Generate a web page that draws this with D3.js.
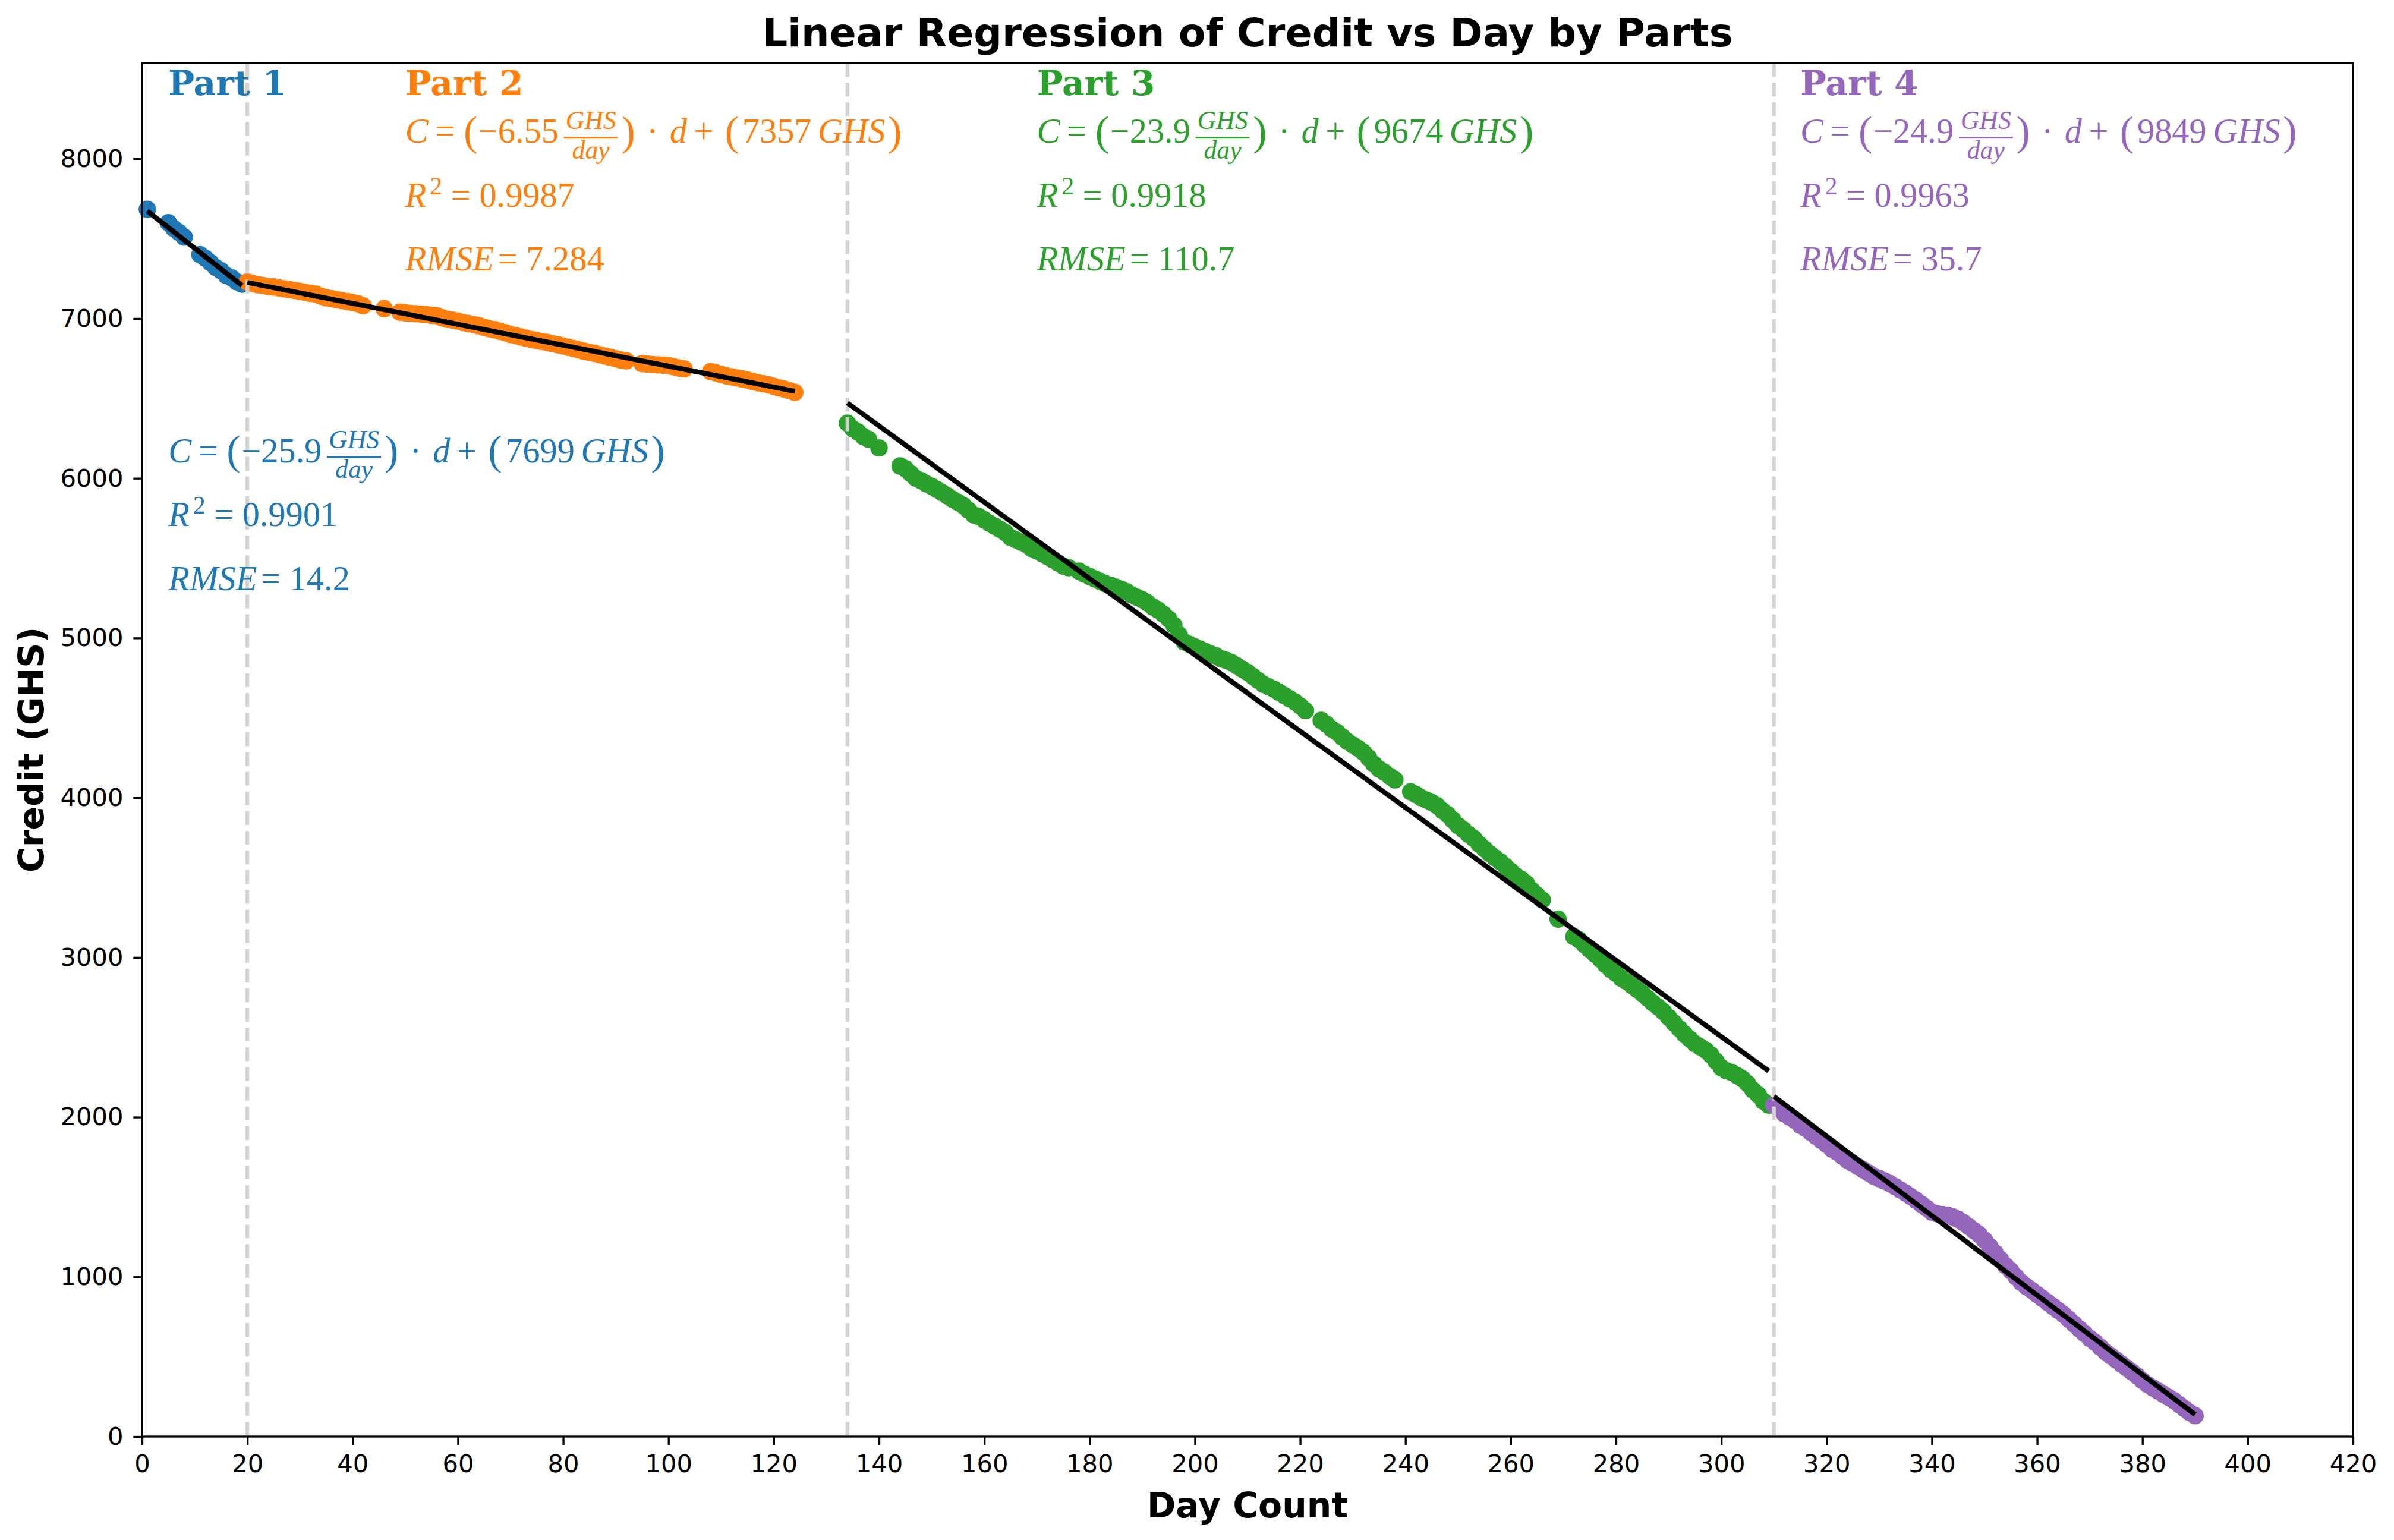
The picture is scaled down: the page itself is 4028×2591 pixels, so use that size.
<!DOCTYPE html>
<html>
<head>
<meta charset="utf-8">
<script src="https://cdn.jsdelivr.net/npm/d3@7"></script>
<style>
  html, body { margin: 0; padding: 0; background: #fff; }
  svg { display: block; }
</style>
</head>
<body>
<svg id="chart"></svg>
<script>
// ---------------- DATA ----------------
const partNames = ["Part 1", "Part 2", "Part 3", "Part 4"];
const partColors = ["#1f77b4", "#ff7f0e", "#2ca02c", "#9467bd"];
const boundaries = [20, 134, 310];

const days1 = [1, 5, 6, 7, 8, 11, 12, 13, 14, 15, 16, 17, 18, 19];
const credit1 = [7684, 7600, 7565, 7540, 7510, 7400, 7378, 7350, 7320, 7300, 7270, 7255, 7230, 7215];

const days2 = [20,21,22,23,24,25,26,27,28,29,30,31,32,33,34,35,36,37,38,39,40,41,42,46,
  49,50,51,52,53,54,55,56,57,58,59,60,61,62,63,64,65,66,67,68,69,70,71,72,73,74,75,76,77,78,79,
  80,81,82,83,84,85,86,87,88,89,90,91,92,95,96,97,98,99,100,101,102,103,
  108,109,110,111,112,113,114,115,116,117,118,119,120,121,122,123,124];
const credit2 = [7229,7220,7212,7207,7200,7198,7192,7186,7181,7176,7170,7164,7158,7153,7140,7130,7124,7118,7112,7106,7100,7093,7080,7062,
  7040,7036,7032,7030,7028,7025,7020,7018,7005,6995,6990,6984,6975,6968,6962,6955,6945,6936,6930,6920,6912,6900,6893,6885,6876,6868,6862,6856,6850,6842,6836,
  6828,6820,6812,6804,6795,6788,6782,6773,6765,6757,6748,6740,6735,6718,6715,6712,6710,6708,6706,6698,6690,6685,
  6668,6660,6650,6641,6635,6628,6622,6615,6606,6598,6592,6585,6576,6566,6558,6548,6538];

const days3 = [134,135,136,137,138,140,144,145,146,147,148,149,150,151,152,153,154,155,156,157,158,159,
  160,161,162,163,164,165,166,167,168,169,170,171,172,173,174,175,176,178,179,180,181,182,183,184,185,
  186,187,188,189,190,191,192,193,194,195,196,197,198,199,200,201,202,203,204,205,206,207,208,209,210,
  211,212,213,214,215,216,217,218,219,220,221,224,225,226,227,228,229,230,231,232,233,234,235,236,237,238,
  241,242,243,244,245,246,247,248,249,250,251,252,253,254,255,256,257,258,259,260,261,262,263,264,265,266,
  269,272,273,274,275,276,277,278,279,280,281,282,283,284,285,286,287,288,289,290,291,292,293,294,295,296,
  297,298,299,300,301,302,303,304,305,306,307,308,309];
const credit3 = [6345,6310,6290,6262,6245,6190,6077,6060,6030,6000,5985,5965,5950,5930,5910,5890,5868,5850,5830,5800,5770,5760,
  5740,5718,5700,5680,5660,5630,5615,5600,5585,5560,5545,5528,5510,5490,5470,5450,5440,5418,5400,5385,5370,5355,5340,5330,5318,
  5305,5290,5270,5255,5240,5220,5195,5175,5150,5120,5080,5020,4975,4960,4945,4930,4915,4900,4888,4870,4860,4845,4826,4805,4785,
  4760,4735,4710,4695,4680,4660,4640,4620,4600,4575,4545,4484,4460,4430,4410,4380,4352,4330,4310,4285,4250,4210,4180,4160,4135,4112,
  4037,4020,4000,3985,3970,3950,3920,3895,3860,3825,3800,3770,3745,3710,3680,3650,3624,3600,3570,3540,3510,3490,3461,3420,3390,3360,
  3240,3130,3110,3080,3050,3020,2990,2955,2925,2900,2870,2850,2825,2800,2775,2745,2715,2690,2660,2625,2590,2555,2520,2490,2460,2440,
  2420,2390,2350,2310,2290,2280,2260,2240,2210,2170,2140,2100,2075];

const days4 = [310,311,312,313,314,315,316,317,318,319,320,321,322,323,324,325,326,327,328,329,330,331,332,333,334,335,
  336,337,338,339,340,341,342,343,344,345,346,347,348,349,350,351,352,353,354,355,356,357,358,359,360,361,362,363,
  364,365,366,367,368,369,370,371,372,373,374,375,376,377,378,379,380,381,382,383,384,385,386,387,388,389,390];
const credit4 = [2075,2050,2020,2000,1980,1950,1930,1905,1880,1855,1830,1800,1780,1755,1730,1710,1690,1670,1650,1630,1615,1600,1585,1565,1545,1525,
  1503,1480,1455,1430,1405,1395,1390,1386,1375,1360,1340,1315,1290,1265,1230,1190,1150,1110,1070,1038,1000,965,938,915,890,865,840,815,
  790,765,735,705,675,645,615,590,560,530,505,480,455,430,405,380,350,325,305,285,265,245,225,200,175,150,131];

const slopes = [-25.9, -6.55, -23.9, -24.9];
const intercepts = [7699, 7357, 9674, 9849];
const slopeLabels = ["25.9", "6.55", "23.9", "24.9"];
const interceptLabels = ["7699", "7357", "9674", "9849"];
const r2Labels = ["0.9901", "0.9987", "0.9918", "0.9963"];
const rmseLabels = ["14.2", "7.284", "110.7", "35.7"];

const xTicks = d3.range(0, 421, 20);
const yTicks = d3.range(0, 8001, 1000);

// ---------------- LAYOUT ----------------
const W = 4028, H = 2591;
const M = { top: 106, right: 69, bottom: 174, left: 239 };
const textAnchors = {            // data-space anchors of annotations
  labelX: [5, 50, 170, 315],
  labelY: 8400,
  lineY: [[6100, 5700, 5300], [8100, 7700, 7300], [8100, 7700, 7300], [8100, 7700, 7300]]
};
const SANS = "'DejaVu Sans', sans-serif";
const SERIF = "'DejaVu Serif', serif";
const MATH = "'Liberation Serif', 'Times New Roman', serif";
const PT = 300 / 72;

const svg = d3.select("#chart").attr("width", W).attr("height", H)
  .attr("viewBox", `0 0 ${W} ${H}`);
svg.append("rect").attr("width", W).attr("height", H).attr("fill", "#fff");

const x = d3.scaleLinear().domain([0, 420]).range([M.left, W - M.right]);
const y = d3.scaleLinear().domain([0, 8600]).range([H - M.bottom, M.top]);

const parts = [
  { days: days1, credit: credit1 },
  { days: days2, credit: credit2 },
  { days: days3, credit: credit3 },
  { days: days4, credit: credit4 }
];

// scatter
const plot = svg.append("g");
parts.forEach((p, i) => {
  plot.append("g").selectAll("circle")
    .data(p.days.map((d, k) => [d, p.credit[k]]))
    .join("circle")
    .attr("cx", d => x(d[0]))
    .attr("cy", d => y(d[1]))
    .attr("r", 14.7)
    .attr("fill", partColors[i]);
});

// boundary lines
plot.append("g").selectAll("line").data(boundaries).join("line")
  .attr("x1", d => x(d)).attr("x2", d => x(d))
  .attr("y1", y(8600)).attr("y2", y(0))
  .attr("stroke", "#d3d3d3").attr("stroke-width", 1.5 * PT)
  .attr("stroke-dasharray", `${5.55 * PT} ${2.4 * PT}`);

// regression lines
parts.forEach((p, i) => {
  const [d0, d1] = d3.extent(p.days);
  plot.append("line")
    .attr("x1", x(d0)).attr("y1", y(slopes[i] * d0 + intercepts[i]))
    .attr("x2", x(d1)).attr("y2", y(slopes[i] * d1 + intercepts[i]))
    .attr("stroke", "#000").attr("stroke-width", 2 * PT);
});

// axes
const tickFs = 10 * PT;
const xAxis = svg.append("g").attr("transform", `translate(0,${y(0)})`)
  .call(d3.axisBottom(x).tickValues(xTicks).tickFormat(d3.format("d"))
    .tickSize(3.5 * PT).tickPadding(16).tickSizeOuter(0));
const yAxis = svg.append("g").attr("transform", `translate(${x(0)},0)`)
  .call(d3.axisLeft(y).tickValues(yTicks).tickFormat(d3.format("d"))
    .tickSize(3.5 * PT).tickPadding(17).tickSizeOuter(0));
[xAxis, yAxis].forEach(a => {
  a.select(".domain").remove();
  a.selectAll(".tick line").attr("stroke", "#000").attr("stroke-width", 0.8 * PT);
  a.selectAll(".tick text").attr("font-family", SANS).attr("font-size", tickFs).attr("fill", "#000");
});

// frame
svg.append("rect")
  .attr("x", x(0)).attr("y", y(8600))
  .attr("width", x(420) - x(0)).attr("height", y(0) - y(8600))
  .attr("fill", "none").attr("stroke", "#000").attr("stroke-width", 0.8 * PT);

// titles
svg.append("text").attr("x", (x(0) + x(420)) / 2).attr("y", 78)
  .attr("text-anchor", "middle").attr("font-family", SANS).attr("font-weight", "bold")
  .attr("font-size", 16 * PT).text("Linear Regression of Credit vs Day by Parts");
svg.append("text").attr("x", (x(0) + x(420)) / 2).attr("y", 2553)
  .attr("text-anchor", "middle").attr("font-family", SANS).attr("font-weight", "bold")
  .attr("font-size", 14 * PT).text("Day Count");
svg.append("text").attr("transform", `translate(73,${(y(0) + y(8600)) / 2}) rotate(-90)`)
  .attr("text-anchor", "middle").attr("font-family", SANS).attr("font-weight", "bold")
  .attr("font-size", 14 * PT).text("Credit (GHS)");

// ---------------- math text renderer ----------------
function drawMath(g, x0, y0, items, color, fs) {
  const t = g.append("g").attr("fill", color).attr("font-family", MATH);
  let cx = x0;
  const add = (str, size, italic) => t.append("text").attr("font-size", size)
    .attr("font-style", italic ? "italic" : "normal").text(str);
  for (const it of items) {
    if (it.gap !== undefined) { cx += it.gap * fs; continue; }
    if (it.frac) {
      const s = fs * 0.75;
      const n = add(it.frac[0], s, true), d = add(it.frac[1], s, true);
      const w = Math.max(n.node().getComputedTextLength(), d.node().getComputedTextLength()) + 0.1 * fs;
      n.attr("x", cx + w / 2).attr("y", y0 - 0.40 * fs).attr("text-anchor", "middle");
      d.attr("x", cx + w / 2).attr("y", y0 + 0.45 * fs).attr("text-anchor", "middle");
      t.append("rect").attr("x", cx).attr("y", y0 - 0.15 * fs - 1.5).attr("width", w).attr("height", 3);
      cx += w; continue;
    }
    if (it.sup) {
      const e = add(it.sup, fs * 0.72, false).attr("x", cx + 0.1 * fs).attr("y", y0 - 0.36 * fs);
      cx += 0.1 * fs + e.node().getComputedTextLength(); continue;
    }
    if (it.p) {
      const e = add(it.p, fs * 1.2, false).attr("x", cx).attr("y", y0 + 0.06 * fs);
      cx += e.node().getComputedTextLength(); continue;
    }
    const e = add(it.t, fs, !!it.i).attr("x", cx).attr("y", y0);
    cx += e.node().getComputedTextLength();
  }
}

const ann = svg.append("g");
const mfs = 14 * PT;
parts.forEach((p, i) => {
  const lx = x(textAnchors.labelX[i]);
  ann.append("text").attr("x", lx).attr("y", y(textAnchors.labelY))
    .attr("font-family", SERIF).attr("font-weight", "bold").attr("font-size", 14 * PT)
    .attr("fill", partColors[i]).text(partNames[i]);
  const ly = textAnchors.lineY[i];
  drawMath(ann, lx, y(ly[0]), [
    { t: "C", i: 1 }, { gap: 0.2 }, { t: "=" }, { gap: 0.25 }, { p: "(" }, { gap: 0.03 },
    { t: "\u2212" + slopeLabels[i] }, { gap: 0.15 }, { frac: ["GHS", "day"] }, { gap: 0.1 }, { p: ")" },
    { gap: 0.33 }, { t: "\u00b7" }, { gap: 0.33 }, { t: "d", i: 1 }, { gap: 0.2 }, { t: "+" }, { gap: 0.33 },
    { p: "(" }, { gap: 0.1 }, { t: interceptLabels[i] }, { gap: 0.18 }, { t: "GHS", i: 1 }, { gap: 0.08 }, { p: ")" }
  ], partColors[i], mfs);
  drawMath(ann, lx, y(ly[1]), [
    { t: "R", i: 1 }, { sup: "2" }, { gap: 0.25 }, { t: "=" }, { gap: 0.25 }, { t: r2Labels[i] }
  ], partColors[i], mfs);
  drawMath(ann, lx, y(ly[2]), [
    { t: "RMSE", i: 1 }, { gap: 0.12 }, { t: "=" }, { gap: 0.25 }, { t: rmseLabels[i] }
  ], partColors[i], mfs);
});
</script>
</body>
</html>
